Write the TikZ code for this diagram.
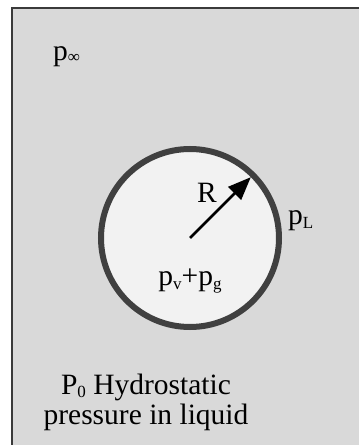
\documentclass[tikz,border=0pt]{standalone}
\usepackage{fontspec}
\setmainfont{Liberation Serif}
\usetikzlibrary{arrows.meta,calc}
\definecolor{liquid}{HTML}{D9D9D9}
\definecolor{bubble}{HTML}{F2F2F2}
\definecolor{ring}{HTML}{404040}
\definecolor{frame}{HTML}{3A3A3A}
\newcommand\sbs[2][-3.5pt]{\raisebox{#1}{\fontsize{17}{17}\selectfont #2}}
\tikzset{
  lbl/.style={inner sep=0pt, font=\fontsize{29.5}{30}\selectfont, text=black},
}
\begin{document}
\begin{tikzpicture}[x=1pt,y=1pt]
\useasboundingbox (0,0) rectangle (359,445);
\fill[white] (0,0) rectangle (359,445);
\fill[liquid] (12,0) rectangle (362,437);
\draw[frame, line width=2pt] (12,-2) -- (12,437) -- (362,437);
% bubble
\coordinate (c) at (190,207);
\draw[ring, line width=6pt, fill=bubble] (c) circle (89);
\coordinate (rend) at ($(c)+(45:86)$);
\draw[line width=2.5pt, -{Triangle[length=23pt,width=18pt]}] (c) -- (rend);
% labels
\node[lbl, anchor=base west] (pinf) at (53,384) {p\sbs[-2pt]{∞}};
\node[lbl, anchor=base west] (R) at (197,242) {R};
\node[lbl, anchor=base west] (pL) at (288,220) {p\sbs{L}};
\node[lbl, anchor=base] (pvg) at (190,159) {p\sbs{v}+p\sbs{g}};
\node[lbl, anchor=base] (p0a) at (146,50) {P\sbs[-2.5pt]{0} Hydrostatic};
\node[lbl, anchor=base] (p0b) at (146,20) {pressure in liquid};
\end{tikzpicture}
\end{document}
